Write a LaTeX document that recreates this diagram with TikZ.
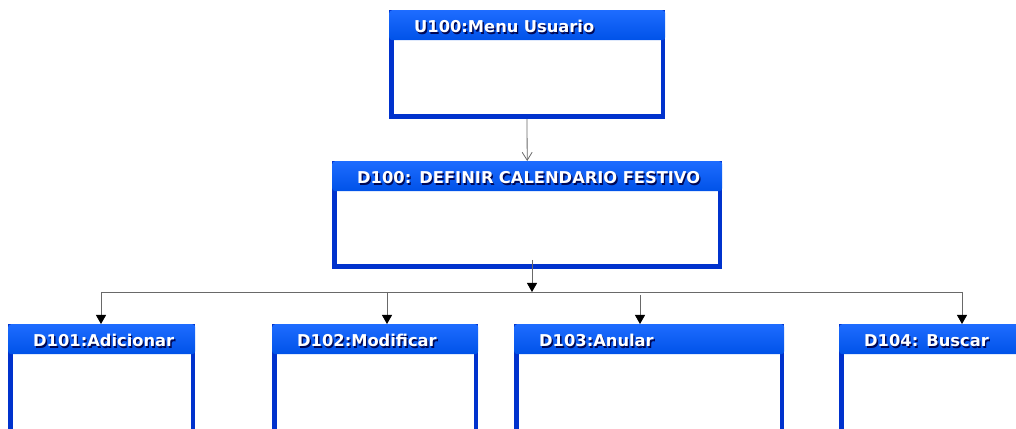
\documentclass[tikz,border=0pt]{standalone}
\usepackage{fontspec}
\usepackage{xcolor}
\usetikzlibrary{arrows.meta}
\newfontfamily\cabfont{DejaVu Sans}

\definecolor{azulcab}{RGB}{0,82,232}
\definecolor{azulclaro}{RGB}{30,108,255}
\definecolor{azulborde}{RGB}{0,50,205}
\definecolor{sombratxt}{RGB}{0,8,85}
\definecolor{gristrazo}{RGB}{105,105,105}

% white title with a dark shadow
\newcommand{\titulo}[1]{\mbox{\makebox[0pt][l]{\hspace*{1.3pt}\raisebox{-1.3pt}{\color{sombratxt}#1}}\color{white}#1}}

\tikzset{
  cuerpo/.style={draw=azulborde, line width=4.5pt, fill=white, anchor=north west, inner sep=0pt},
  cabecera/.style={top color=azulclaro, bottom color=azulcab, rounded corners=3pt, anchor=north west,
    minimum height=30pt, inner xsep=25pt, inner ysep=0pt, align=left,
    text height=15.5pt, text depth=0pt,
    font=\cabfont\bfseries\fontsize{16.3}{18}\selectfont},
  conector/.style={draw=gristrazo, line width=0.8pt},
  flecha/.style={conector, -{Triangle[length=9pt,width=10pt,black]}},
  abierta/.style={conector, -{Straight Barb[length=8pt,width=10pt]}}
}

\begin{document}
\begin{tikzpicture}[x=1pt,y=1pt]
    \useasboundingbox (0,0) rectangle (1016,428);
    \clip (0,0) rectangle (1016,428);

    % Top boxes
    \node[cuerpo, minimum width=271.5pt, minimum height=104.5pt] (u100) at (389,418) {};
    \node[cabecera, text width=226pt] (u100h) at (389,418) {\titulo{U100:Menu Usuario}};

    \node[cuerpo, minimum width=385.5pt, minimum height=103.5pt] (d100) at (332,267) {};
    \node[cabecera, text width=340pt] (d100h) at (332,267) {\titulo{D100: DEFINIR CALENDARIO FESTIVO}};

    % Bottom row boxes
    \foreach \nom/\x/\w/\txt in {d101/8/187/{D101:Adicionar},
                                 d102/272/206/{D102:Modificar},
                                 d103/514/270/{D103:Anular},
                                 d104/839/200/{D104: Buscar}}
    {
        \pgfmathsetmacro\cw{\w-4.5}
        \pgfmathsetmacro\tw{\w-50}
        \node[cuerpo, minimum width=\cw pt, minimum height=145.5pt] (\nom) at (\x,104) {};
        \node[cabecera, text width=\tw pt] (\nom h) at (\x,104) {\titulo{\txt}};
    }

    % Connectors
    \draw[abierta] (u100.south) -- (d100h.north);

    \coordinate (bus) at (532,136);
    \coordinate (b101) at (101,136);
    \coordinate (b102) at (387,136);
    \coordinate (b103) at (640,133);
    \coordinate (b104) at (962,136);

    \draw[flecha] ([xshift=5pt,yshift=9pt]d100.south) -- (bus);
    \draw[conector] (b101) -- (b104);
    \foreach \b/\nom in {b101/d101, b102/d102, b103/d103, b104/d104}
    {
        \draw[flecha] (\b) -- (\b |- \nom h.north);
    }
\end{tikzpicture}
\end{document}
